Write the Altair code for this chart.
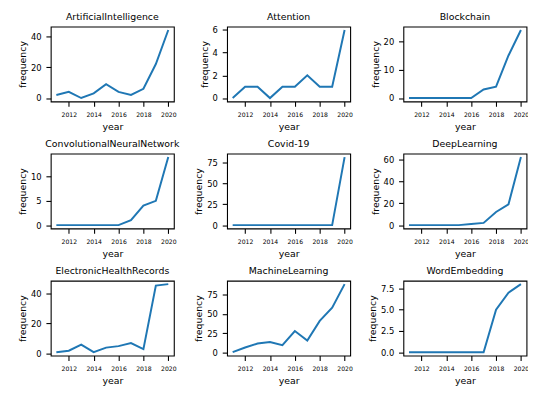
import altair as alt
import pandas as pd

years = [2011, 2012, 2013, 2014, 2015, 2016, 2017, 2018, 2019, 2020]
x_ticks = [2012, 2014, 2016, 2018, 2020]

topics = [
    "ArtificialIntelligence", "Attention", "Blockchain",
    "ConvolutionalNeuralNetwork", "Covid-19", "DeepLearning",
    "ElectronicHealthRecords", "MachineLearning", "WordEmbedding",
]

artificial_intelligence = [2, 4, 0, 3, 9, 4, 2, 6, 22, 44]
attention = [0, 1, 1, 0, 1, 1, 2, 1, 1, 6]
blockchain = [0, 0, 0, 0, 0, 0, 3, 4, 15, 24]
conv_neural_network = [0, 0, 0, 0, 0, 0, 1, 4, 5, 14]
covid_19 = [0, 0, 0, 0, 0, 0, 0, 0, 0, 81]
deep_learning = [0, 0, 0, 0, 0, 1, 2, 12, 19, 62]
electronic_health_records = [1, 2, 6, 1, 4, 5, 7, 3, 45, 46]
machine_learning = [1, 7, 12, 14, 10, 28, 16, 41, 58, 88]
word_embedding = [0, 0, 0, 0, 0, 0, 0, 5, 7, 8]

series = [
    artificial_intelligence, attention, blockchain,
    conv_neural_network, covid_19, deep_learning,
    electronic_health_records, machine_learning, word_embedding,
]

y_ticks = [
    [0, 20, 40], [0, 2, 4, 6], [0, 10, 20],
    [0, 5, 10], [0, 25, 50, 75], [0, 20, 40, 60],
    [0, 20, 40], [0, 25, 50, 75], [0, 2.5, 5, 7.5],
]
y_formats = ["d", "d", "d", "d", "d", "d", "d", "d", ".1f"]

FONT = "DejaVu Sans"


def panel(name, vals, ticks, fmt):
    df = pd.DataFrame({"year": years, "frequency": vals})
    lo, hi = min(vals), max(vals)
    m = (hi - lo) * 0.05
    return (
        alt.Chart(df)
        .mark_line(color="#1f77b4", strokeWidth=2)
        .encode(
            x=alt.X(
                "year:Q",
                scale=alt.Scale(domain=[2010.55, 2020.45], nice=False, zero=False),
                axis=alt.Axis(values=x_ticks, format="d", title="year"),
            ),
            y=alt.Y(
                "frequency:Q",
                scale=alt.Scale(domain=[lo - m, hi + m], nice=False, zero=False),
                axis=alt.Axis(values=ticks, format=fmt, title="frequency"),
            ),
        )
        .properties(width=125, height=76, title=alt.TitleParams(name, frame="group"))
    )


panels = [panel(n, v, t, f) for n, v, t, f in zip(topics, series, y_ticks, y_formats)]

chart = (
    alt.concat(*panels, columns=3, spacing={"row": 53, "column": 54}, bounds="flush")
    .properties(padding={"left": 8.4, "top": 0, "right": -1.5, "bottom": -3.5})
    .configure_view(stroke="black", strokeWidth=1.1)
    .configure_axis(
        grid=False,
        domain=False,
        tickColor="black",
        tickSize=4.9,
        tickWidth=1.1,
        labelColor="black",
        labelFont=FONT,
        titleFont=FONT,
        titleFontWeight="normal",
        titleColor="black",
        titleFontSize=9.5,
        labelPadding=4.9,
    )
    .configure_axisX(labelFontSize=6.2, titlePadding=4, labelFlush=False)
    .configure_axisY(labelFontSize=8.5, titlePadding=3)
    .configure_title(
        font=FONT, fontSize=9.5, fontWeight="normal", color="black",
        offset=5, anchor="middle", baseline="bottom",
    )
)

chart.save("out.html", embed_options={"renderer": "svg", "actions": False})
